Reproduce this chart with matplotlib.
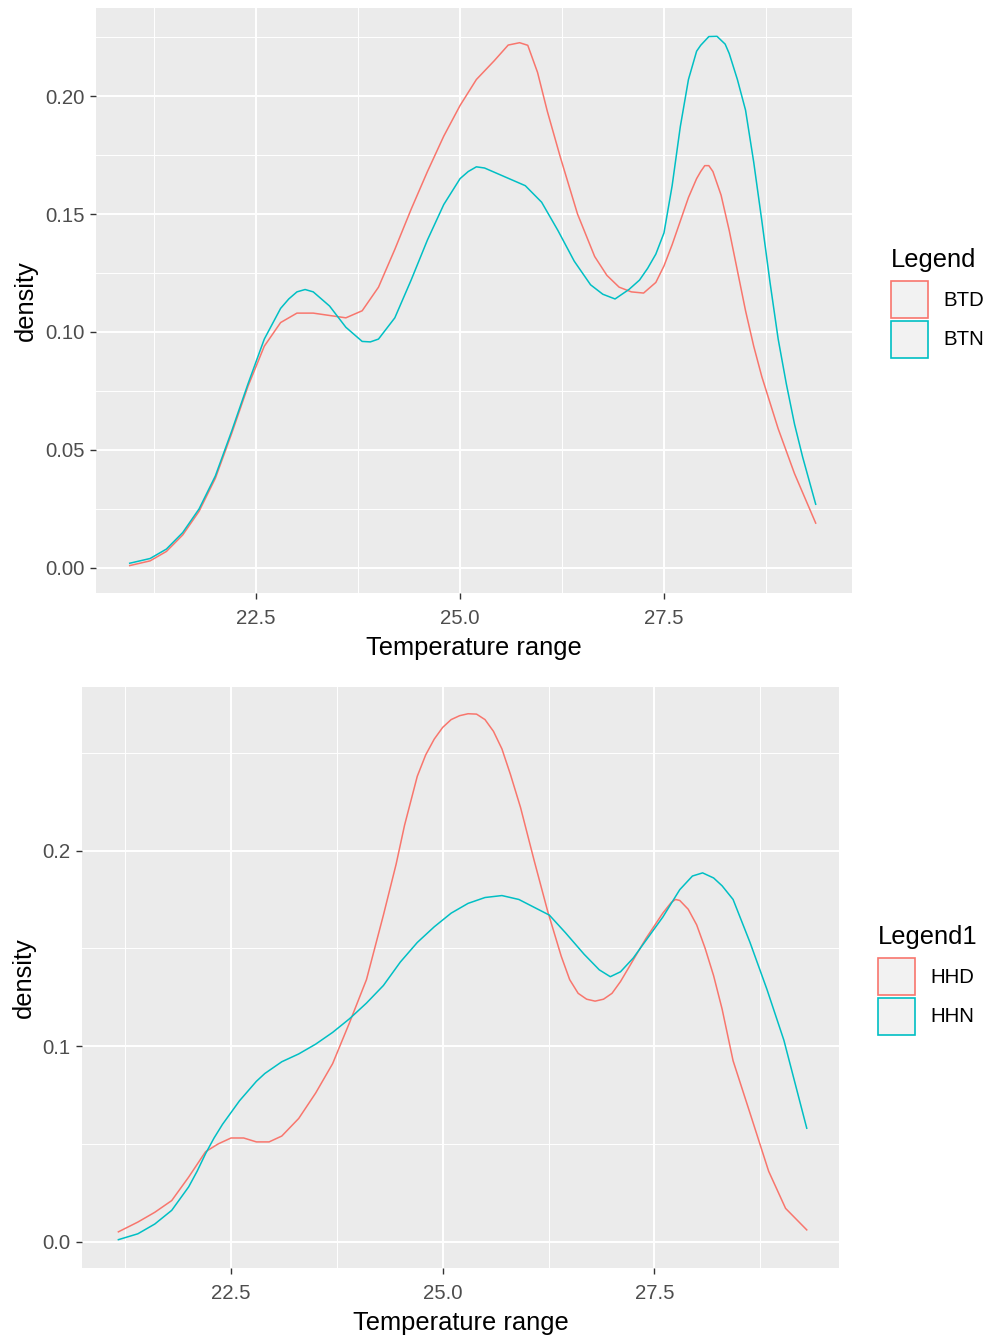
import matplotlib
matplotlib.use("Agg")
from matplotlib import pyplot as plt
from matplotlib.patches import Patch
from matplotlib.ticker import FixedLocator

# ggplot-like look
plt.rcParams['font.family'] = ['Liberation Sans', 'DejaVu Sans']

RED = "#F8766D"
TEAL = "#00BFC4"

# ---- top panel: BTD / BTN density curves
btd_x = [20.95, 21.2, 21.4, 21.6, 21.8, 22.0, 22.2, 22.4, 22.6, 22.8, 23.0, 23.2, 23.4, 23.6,
         23.8, 24.0, 24.2, 24.4, 24.6, 24.8, 25.0, 25.2, 25.42, 25.59, 25.73, 25.83, 25.95, 26.07,
         26.23, 26.44, 26.65, 26.8, 26.95, 27.1, 27.25, 27.4, 27.5, 27.6, 27.7, 27.8, 27.9, 27.95,
         28.0, 28.05, 28.1, 28.2, 28.3, 28.4, 28.5, 28.6, 28.7, 28.9, 29.1, 29.36]
btd_y = [0.001, 0.003, 0.007, 0.014, 0.024, 0.038, 0.057, 0.077, 0.094, 0.104, 0.108, 0.108, 0.107, 0.106,
         0.109, 0.119, 0.135, 0.152, 0.168, 0.183, 0.196, 0.207, 0.215, 0.2216, 0.2226, 0.2215, 0.210, 0.1935,
         0.174, 0.150, 0.132, 0.124, 0.119, 0.117, 0.1165, 0.121, 0.128, 0.137, 0.147, 0.157, 0.165, 0.168,
         0.1705, 0.1705, 0.168, 0.158, 0.143, 0.126, 0.109, 0.094, 0.081, 0.059, 0.040, 0.019]

btn_x = [20.95, 21.2, 21.4, 21.6, 21.8, 22.0, 22.2, 22.4, 22.6, 22.8, 22.9, 23.0, 23.1, 23.2,
         23.3, 23.4, 23.6, 23.8, 23.9, 24.0, 24.2, 24.4, 24.6, 24.8, 25.0, 25.1, 25.2, 25.3,
         25.4, 25.6, 25.8, 26.0, 26.2, 26.4, 26.6, 26.75, 26.9, 27.07, 27.2, 27.3, 27.4, 27.5,
         27.6, 27.7, 27.8, 27.9, 27.95, 28.05, 28.15, 28.25, 28.3, 28.4, 28.5, 28.6, 28.7, 28.8,
         28.9, 29.0, 29.1, 29.2, 29.36]
btn_y = [0.002, 0.004, 0.008, 0.015, 0.025, 0.039, 0.058, 0.078, 0.097, 0.110, 0.114, 0.117, 0.118, 0.117,
         0.114, 0.111, 0.102, 0.096, 0.0958, 0.097, 0.106, 0.122, 0.139, 0.154, 0.165, 0.168, 0.170, 0.1695,
         0.168, 0.165, 0.162, 0.155, 0.143, 0.130, 0.120, 0.116, 0.114, 0.118, 0.122, 0.127, 0.133, 0.142,
         0.162, 0.187, 0.207, 0.219, 0.2215, 0.2252, 0.2253, 0.222, 0.218, 0.207, 0.194, 0.172, 0.147, 0.121,
         0.097, 0.078, 0.061, 0.047, 0.027]

# ---- bottom panel: HHD / HHN density curves
hhd_x = [21.17, 21.4, 21.6, 21.8, 22.0, 22.2, 22.35, 22.5, 22.65, 22.8, 22.95, 23.1, 23.3, 23.5,
         23.7, 23.9, 24.1, 24.3, 24.45, 24.55, 24.7, 24.8, 24.9, 25.0, 25.1, 25.2, 25.3, 25.4,
         25.5, 25.6, 25.7, 25.8, 25.92, 26.08, 26.24, 26.4, 26.5, 26.6, 26.7, 26.8, 26.9, 27.0,
         27.1, 27.25, 27.4, 27.6, 27.7, 27.75, 27.8, 27.9, 28.0, 28.1, 28.2, 28.3, 28.43, 28.65,
         28.85, 29.05, 29.3]
hhd_y = [0.005, 0.010, 0.015, 0.021, 0.033, 0.046, 0.050, 0.053, 0.053, 0.051, 0.051, 0.054, 0.063, 0.076,
         0.091, 0.112, 0.134, 0.167, 0.193, 0.213, 0.238, 0.249, 0.257, 0.263, 0.267, 0.269, 0.270, 0.2698,
         0.267, 0.261, 0.252, 0.239, 0.222, 0.195, 0.169, 0.146, 0.134, 0.127, 0.124, 0.123, 0.124, 0.127,
         0.133, 0.144, 0.155, 0.168, 0.1735, 0.175, 0.1745, 0.170, 0.162, 0.150, 0.136, 0.119, 0.0925, 0.063,
         0.036, 0.017, 0.006]

hhn_x = [21.17, 21.4, 21.6, 21.8, 22.0, 22.1, 22.2, 22.3, 22.4, 22.5, 22.6, 22.7, 22.8, 22.9,
         23.0, 23.1, 23.3, 23.5, 23.7, 23.9, 24.1, 24.3, 24.5, 24.7, 24.9, 25.1, 25.3, 25.5,
         25.7, 25.9, 26.08, 26.26, 26.45, 26.67, 26.85, 26.98, 27.1, 27.25, 27.4, 27.6, 27.8, 27.95,
         28.07, 28.2, 28.3, 28.43, 28.63, 28.83, 29.03, 29.15, 29.3]
hhn_y = [0.001, 0.004, 0.009, 0.016, 0.028, 0.036, 0.045, 0.053, 0.060, 0.066, 0.072, 0.077, 0.082, 0.086,
         0.089, 0.092, 0.096, 0.101, 0.107, 0.114, 0.122, 0.131, 0.143, 0.153, 0.161, 0.168, 0.173, 0.176,
         0.177, 0.175, 0.171, 0.167, 0.158, 0.147, 0.139, 0.1355, 0.138, 0.145, 0.154, 0.166, 0.180, 0.187,
         0.1886, 0.186, 0.182, 0.175, 0.153, 0.129, 0.103, 0.083, 0.058]

x_ticks = [22.5, 25.0, 27.5]
x_minor = [21.25, 23.75, 26.25, 28.75]
top_yticks = [0.0, 0.05, 0.10, 0.15, 0.20]
top_ylabels = ["0.00", "0.05", "0.10", "0.15", "0.20"]
top_yminor = [0.025, 0.075, 0.125, 0.175, 0.225]
bot_yticks = [0.0, 0.1, 0.2]
bot_ylabels = ["0.0", "0.1", "0.2"]
bot_yminor = [0.05, 0.15, 0.25]

TICK_FS = 14.7
TITLE_FS = 18.4


def style_axes(ax, yticks, ylabels, yminor):
    ax.set_facecolor("#EBEBEB")
    for s in ax.spines.values():
        s.set_visible(False)
    ax.set_xticks(x_ticks)
    ax.set_xticklabels([f"{v:.1f}" for v in x_ticks])
    ax.xaxis.set_minor_locator(FixedLocator(x_minor))
    ax.set_yticks(yticks)
    ax.set_yticklabels(ylabels)
    ax.yaxis.set_minor_locator(FixedLocator(yminor))
    ax.grid(which="major", color="white", linewidth=1.4)
    ax.grid(which="minor", color="white", linewidth=0.7)
    ax.set_axisbelow(True)
    ax.tick_params(which="major", length=4.6, width=1.0, color="#333333",
                   labelsize=TICK_FS, labelcolor="#4D4D4D", pad=3.5)
    ax.tick_params(axis="x", which="major", pad=7)
    ax.tick_params(which="minor", length=0)
    ax.set_xlabel("Temperature range", fontsize=TITLE_FS, labelpad=6)
    ax.set_ylabel("density", fontsize=TITLE_FS, labelpad=5)


fig = plt.figure(figsize=(9.9, 13.37), dpi=100)

ax1 = fig.add_axes([0.097, 0.5565, 0.7636, 0.4375])
ax1.plot(btd_x, btd_y, color=RED, lw=1.1)
ax1.plot(btn_x, btn_y, color=TEAL, lw=1.1)
ax1.set_xlim(20.537, 29.805)
ax1.set_ylim(-0.0106, 0.2373)
style_axes(ax1, top_yticks, top_ylabels, top_yminor)

ax2 = fig.add_axes([0.0828, 0.0516, 0.7646, 0.4346])
ax2.plot(hhd_x, hhd_y, color=RED, lw=1.1)
ax2.plot(hhn_x, hhn_y, color=TEAL, lw=1.1)
ax2.set_xlim(20.74, 29.68)
ax2.set_ylim(-0.0135, 0.2837)
style_axes(ax2, bot_yticks, bot_ylabels, bot_yminor)


def add_legend(ax, title, names):
    handles = [Patch(facecolor="#F2F2F2", edgecolor=c, linewidth=1.2, label=n)
               for c, n in zip([RED, TEAL], names)]
    leg = ax.legend(handles=handles, title=title, loc="center left",
                    bbox_to_anchor=(1.052, 0.496), frameon=False,
                    fontsize=TICK_FS, title_fontsize=TITLE_FS,
                    handlelength=1.8, handleheight=2.4, labelspacing=0.12,
                    handletextpad=0.75, borderpad=0, borderaxespad=0,
                    alignment="left")
    # more room between legend title and keys, like ggplot
    leg._legend_box.sep = 6.8
    return leg


add_legend(ax1, "Legend", ["BTD", "BTN"])
add_legend(ax2, "Legend1", ["HHD", "HHN"])

fig.savefig("out.png", dpi=100, facecolor="white")
